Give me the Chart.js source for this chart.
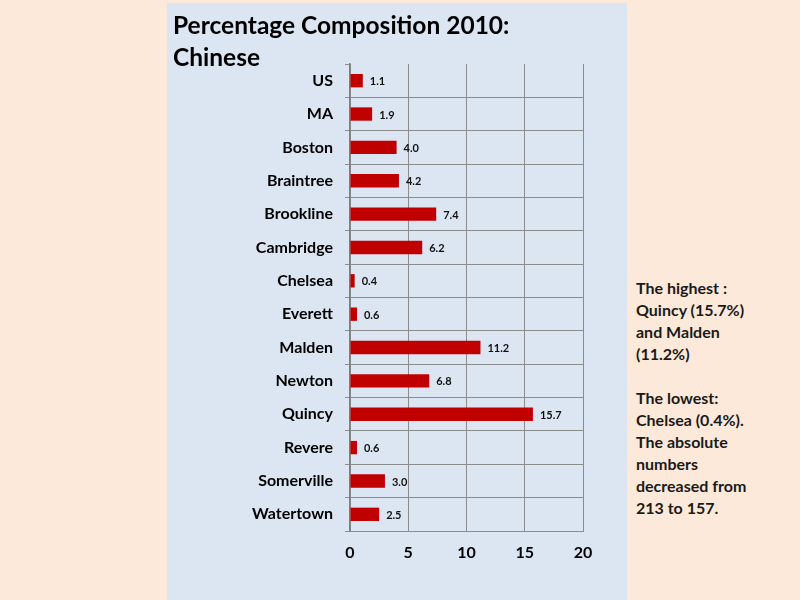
<!DOCTYPE html>
<html>
<head>
<meta charset="utf-8">
<script src="https://cdn.jsdelivr.net/npm/chart.js@4/dist/chart.umd.min.js"></script>
<style>
  html, body { margin: 0; padding: 0; }
  body { width: 800px; height: 600px; background: #fde9d9; position: relative; overflow: hidden; font-family: Lato, "Open Sans", sans-serif; }
  #panel { position: absolute; left: 167px; top: 3px; width: 460px; height: 597px; background: #dce6f2; }
  #titulo { position: absolute; left: 6px; top: 6px; font-weight: bold; font-size: 24.5px; line-height: 32px; color: #000; }
  #grafico { position: absolute; left: 0; top: 0; }
  #nota { position: absolute; left: 636px; top: 277px; width: 160px; font-weight: bold; font-size: 16px; line-height: 22px; color: #1a1a1a; }
</style>
</head>
<body>
<div id="panel">
  <canvas id="grafico" width="460" height="597"></canvas>
  <div id="titulo">Percentage Composition 2010:<br>Chinese</div>
</div>
<div id="nota">The highest&nbsp;:<br>Quincy (15.7%)<br>and Malden<br>(11.2%)<br><br>The lowest:<br>Chelsea (0.4%).<br>The absolute<br>numbers<br>decreased from<br>213 to 157.</div>
<script>
// Datos del gráfico
const ciudades = ['US', 'MA', 'Boston', 'Braintree', 'Brookline', 'Cambridge', 'Chelsea',
                  'Everett', 'Malden', 'Newton', 'Quincy', 'Revere', 'Somerville', 'Watertown'];
const porcentajes = [1.1, 1.9, 4.0, 4.2, 7.4, 6.2, 0.4, 0.6, 11.2, 6.8, 15.7, 0.6, 3.0, 2.5];
const ticksX = [0, 5, 10, 15, 20];

const gris = '#8c8c8c';

// Etiquetas de valor al final de cada barra
const etiquetasValor = {
    id: 'etiquetasValor',
    afterDatasetsDraw(chart) {
        const ctx = chart.ctx;
        const meta = chart.getDatasetMeta(0);
        ctx.save();
        ctx.font = 'bold 11px Lato, "Open Sans", sans-serif';
        ctx.fillStyle = '#111';
        ctx.textBaseline = 'middle';
        ctx.textAlign = 'left';
        meta.data.forEach((bar, i) => {
            ctx.fillText(porcentajes[i].toFixed(1), bar.x + 7, bar.y + 1);
        });
        ctx.restore();
    }
};

new Chart(document.getElementById('grafico'), {
    type: 'bar',
    data: {
        labels: ciudades,
        datasets: [{
            data: porcentajes,
            backgroundColor: '#c00000',
            borderWidth: 0,
            barPercentage: 0.4,
            categoryPercentage: 1
        }]
    },
    options: {
        indexAxis: 'y',
        responsive: false,
        animation: false,
        layout: { padding: { top: 61, right: 44, left: 0, bottom: 0 } },
        plugins: { legend: { display: false }, tooltip: { enabled: false } },
        scales: {
            x: {
                min: 0,
                max: 20,
                afterBuildTicks: scale => { scale.ticks = ticksX.map(v => ({ value: v })); },
                afterFit: scale => { scale.height = 69; },
                grid: { color: gris, drawTicks: false },
                border: { color: gris, width: 1 },
                ticks: { padding: 12, color: '#000', font: { family: 'Lato, "Open Sans", sans-serif', size: 16, weight: 'bold' } }
            },
            y: {
                afterFit: scale => { scale.width = 183; },
                grid: {
                    offset: true,
                    color: c => (c.index === 0 ? 'rgba(0,0,0,0)' : gris),
                    tickColor: gris,
                    tickLength: 5
                },
                border: { color: '#7f7f7f', width: 1.5 },
                ticks: { padding: 12, color: '#000', font: { family: 'Lato, "Open Sans", sans-serif', size: 16, weight: 'bold' } }
            }
        }
    },
    plugins: [etiquetasValor]
});
</script>
</body>
</html>
